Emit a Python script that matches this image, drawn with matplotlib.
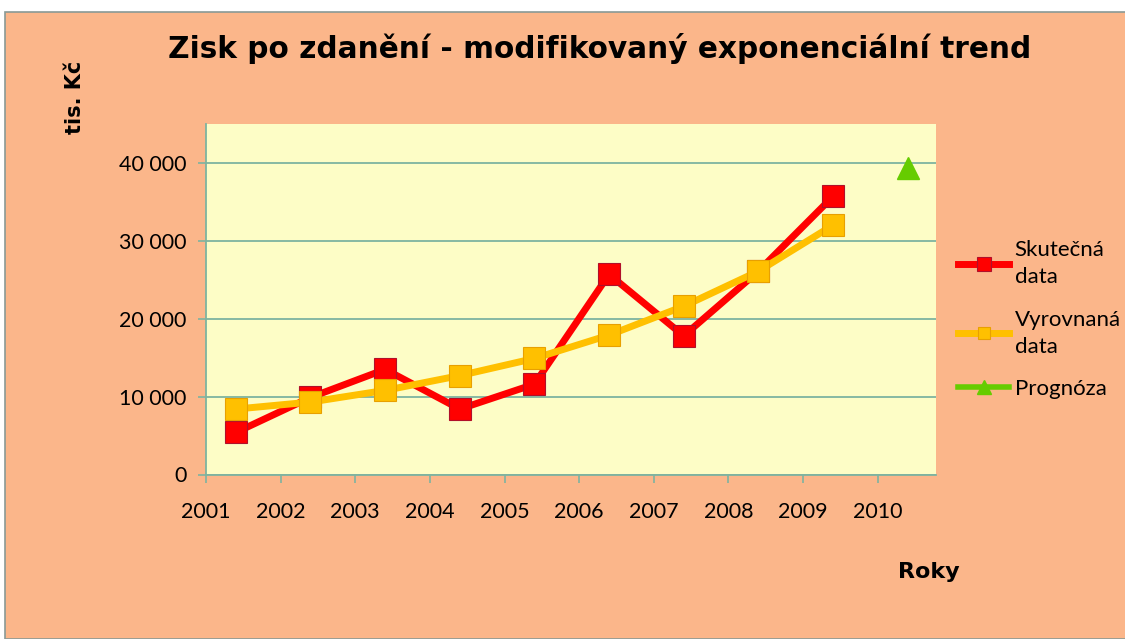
import numpy as np
import matplotlib
matplotlib.use("Agg")
import matplotlib.pyplot as plt
from matplotlib.patches import Rectangle

# data (tis. Kč)
roky = [2001, 2002, 2003, 2004, 2005, 2006, 2007, 2008, 2009]
skutecna = [5400, 9900, 13500, 8400, 11600, 25700, 17800, 26100, 35700]
vyrovnana = [8400, 9300, 10800, 12700, 14900, 17900, 21600, 26100, 32000]
rok_prognozy = [2010]
prognoza = [39400]
tick_labels = ["2001", "2002", "2003", "2004", "2005", "2006", "2007", "2008", "2009", "2010"]

bg = "#FBB68A"
plotbg = "#FDFDC6"
grid_c = "#7DB3A0"

fig = plt.figure(figsize=(11.25, 6.39), dpi=100, facecolor="white")
fig.patches.append(Rectangle((5 / 1125, 0), 1.2, 1 - 12 / 639, transform=fig.transFigure,
                             facecolor=bg, edgecolor="#8A9A96", linewidth=1.2, zorder=-5))

ax = fig.add_axes([206 / 1125, 1 - 474.5 / 639, 730 / 1125, 350.5 / 639])
ax.set_zorder(2)
ax.set_facecolor(plotbg)

off = 0.4  # points sit a bit right of the year ticks, like in the original
x1 = np.array(roky) + off
x2 = np.array(rok_prognozy) + off

ax.plot(x1, skutecna, color="#FF0000", lw=5, marker="s", ms=16,
        mfc="#FF0000", mec="#B0102A", mew=0.8, label="Skutečná\ndata", zorder=3)
ax.plot(x1, vyrovnana, color="#FFC000", lw=5, marker="s", ms=15.5,
        mfc="#FFC000", mec="#E8A000", mew=0.8, label="Vyrovnaná\ndata", zorder=4)
ax.plot(x2, prognoza, color="#66CC00", lw=4, marker="^", ms=16,
        mfc="#66CC00", mec="#66CC00", linestyle="-", label="Prognóza", zorder=5)

ax.set_xlim(2001, 2010.78)
ax.set_ylim(0, 45000)
ax.set_xticks(np.arange(2001, 2011))
ax.set_xticklabels(tick_labels)
yt = [0, 10000, 20000, 30000, 40000]
ax.set_yticks(yt)
ax.set_yticklabels([f"{v:,}".replace(",", " ") for v in yt])

ax.grid(axis="y", color=grid_c, lw=1.3)
ax.set_axisbelow(True)
for s in ["top", "right"]:
    ax.spines[s].set_visible(False)
for s in ["left", "bottom"]:
    ax.spines[s].set_color(grid_c)
    ax.spines[s].set_linewidth(1.3)
ax.tick_params(axis="both", direction="out", length=6, width=1.2, color=grid_c,
               labelsize=15.5, labelcolor="black")
ax.tick_params(axis="x", pad=14)
ax.tick_params(axis="y", pad=8)
for t in ax.get_xticklabels() + ax.get_yticklabels():
    t.set_fontfamily("Lato")

fig.text(0.533, 1 - 48 / 639, "Zisk po zdanění - modifikovaný exponenciální trend",
         ha="center", va="center", fontsize=21.3, fontweight="bold", family="DejaVu Sans")
fig.text(75 / 1125, 1 - 97 / 639, "tis. Kč", rotation=90, ha="center", va="center",
         fontsize=15, fontweight="bold", family="DejaVu Sans")
fig.text(929 / 1125, 1 - 572 / 639, "Roky", ha="center", va="center",
         fontsize=16, fontweight="bold", family="DejaVu Sans")

leg = ax.legend(loc="upper left", bbox_to_anchor=(947 / 1125, 1 - 229 / 639),
                bbox_transform=fig.transFigure, frameon=False,
                prop={"family": "Lato", "size": 16}, handlelength=2.3,
                handletextpad=0.25, labelspacing=1.0, borderpad=0, markerscale=0.6)
for t in leg.get_texts():
    t.set_linespacing(1.45)

fig.savefig("out.png", dpi=100, facecolor=fig.get_facecolor())
